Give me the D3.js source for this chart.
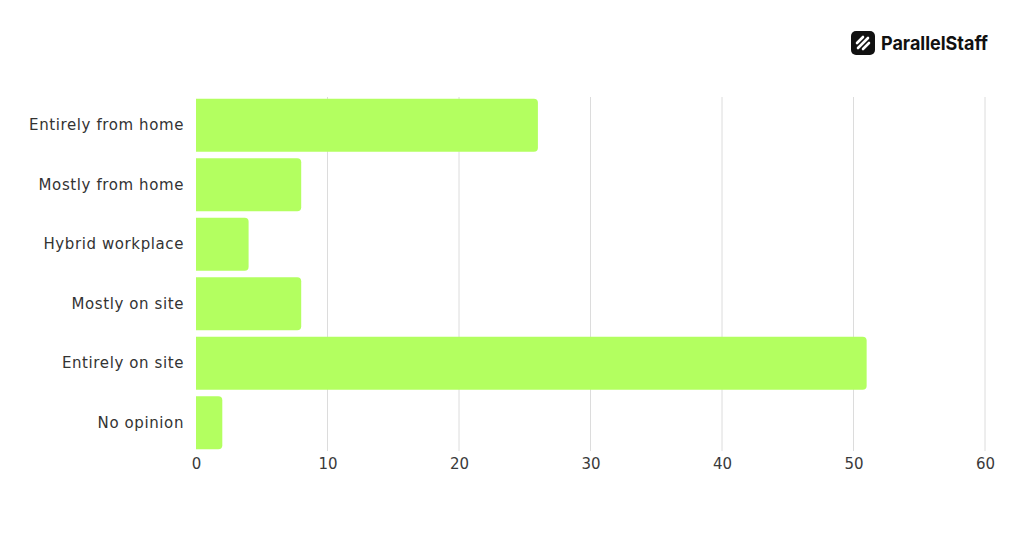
<!DOCTYPE html>
<html><head><meta charset="utf-8">
<script src="https://cdn.jsdelivr.net/npm/d3@7"></script>
<style>
html,body{margin:0;padding:0;background:#fff;}
svg{display:block;font-family:"DejaVu Sans",sans-serif;}
</style></head>
<body>
<svg id="c" width="1024" height="536"></svg>
<script>
const categories = ["Entirely from home","Mostly from home","Hybrid workplace","Mostly on site","Entirely on site","No opinion"];
const values = [26, 8, 4, 8, 51, 2];
const xTicks = [0, 10, 20, 30, 40, 50, 60];

const svg = d3.select("#c");
const x = d3.scaleLinear().domain([0, 60]).range([196, 985]);
const y = d3.scaleBand().domain(categories).range([95.5, 452.5]).paddingInner(0.11).paddingOuter(0.055);
const font = "'DejaVu Sans',sans-serif";

// gridlines
svg.append("g").selectAll("line").data(xTicks.filter(d => d > 0)).join("line")
  .attr("x1", d => x(d)).attr("x2", d => x(d))
  .attr("y1", 97).attr("y2", 451)
  .attr("stroke", "#dcdcdc").attr("stroke-width", 1);

// bars: square left, rounded right
const r = 4;
svg.append("g").selectAll("path").data(values).join("path")
  .attr("fill", "#b3ff60")
  .attr("d", (d, i) => {
    const x0 = x(0), x1 = x(d), y0 = y(categories[i]), h = y.bandwidth();
    const rr = Math.min(r, (x1 - x0) / 2);
    return `M${x0},${y0}H${x1 - rr}Q${x1},${y0} ${x1},${y0 + rr}V${y0 + h - rr}Q${x1},${y0 + h} ${x1 - rr},${y0 + h}H${x0}Z`;
  });

// x axis labels
const xa = svg.append("g").attr("transform", "translate(0,464)")
  .call(d3.axisBottom(x).tickValues(xTicks).tickSize(0).tickPadding(0));
xa.select(".domain").remove();
xa.selectAll("text").attr("font-size", 15).attr("fill", "#3a3a3a").attr("font-family", font).attr("dy", "0.32em");

// y axis labels
const ya = svg.append("g").attr("transform", "translate(184,0)")
  .call(d3.axisLeft(y).tickSize(0).tickPadding(0));
ya.select(".domain").remove();
ya.selectAll("text").attr("font-size", 15).attr("fill", "#333").attr("font-family", font).attr("letter-spacing", "0.6");

// logo
const logo = svg.append("g").attr("transform", "translate(851,31)");
logo.append("rect").attr("width", 24).attr("height", 24).attr("rx", 5).attr("fill", "#111");
logo.append("line").attr("x1", 6).attr("y1", 12).attr("x2", 12).attr("y2", 6).attr("stroke", "#fff").attr("stroke-width", 2.6).attr("stroke-linecap", "round");
logo.append("line").attr("x1", 7).attr("y1", 17).attr("x2", 17).attr("y2", 7).attr("stroke", "#fff").attr("stroke-width", 2.6).attr("stroke-linecap", "round");
logo.append("line").attr("x1", 12).attr("y1", 18).attr("x2", 18).attr("y2", 12).attr("stroke", "#fff").attr("stroke-width", 2.6).attr("stroke-linecap", "round");
svg.append("text").attr("x", 881).attr("y", 50).attr("font-size", 19).attr("font-weight", 700)
  .attr("font-family", "Inter,sans-serif")
  .attr("fill", "#111").attr("textLength", 107).attr("lengthAdjust", "spacingAndGlyphs")
  .text("ParallelStaff");
</script>
</body></html>
